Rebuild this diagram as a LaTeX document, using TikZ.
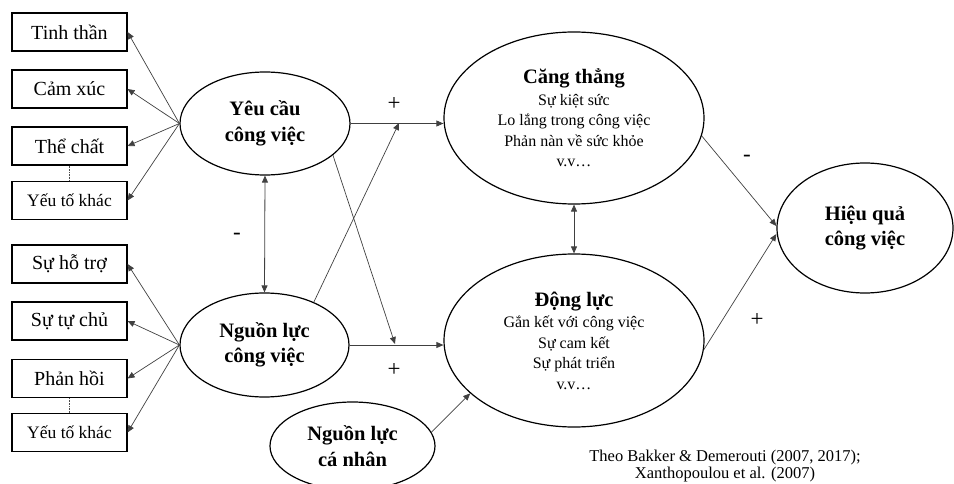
\documentclass[tikz,border=0pt]{standalone}
\usepackage{fontspec}
\setmainfont{Liberation Serif}
\usetikzlibrary{shapes.geometric,arrows.meta}
\begin{document}
\begin{tikzpicture}[x=1pt,y=-1pt,
  box/.style={draw=black,line width=1.1pt,minimum width=115pt,minimum height=38pt,inner sep=0pt,font=\fontsize{20}{24}\selectfont},
  smallbox/.style={box,font=\fontsize{17.5}{21}\selectfont},
  oval/.style={draw=black,line width=1.2pt,ellipse,inner sep=0pt,align=center},
  boldoval/.style={oval,font=\bfseries\fontsize{20.5}{25.5}\selectfont},
  textoval/.style={oval,font=\fontsize{16}{20.5}\selectfont},
  link/.style={draw=black!75,line width=0.7pt,-{Triangle[length=7pt,width=6pt]}},
  dlink/.style={draw=black!75,line width=0.8pt,{Triangle[length=7pt,width=6pt]}-{Triangle[length=7pt,width=6pt]}},
  sign/.style={font=\fontsize{23}{26}\selectfont,inner sep=0pt},
  cite/.style={font=\fontsize{16.5}{17.5}\selectfont,align=center,inner sep=0pt}]
\useasboundingbox (0,0) rectangle (954,484);

% left boxes
\node[box] (b1) at (69.5,32) {Tinh thần};
\node[box] (b2) at (69.5,89) {Cảm xúc};
\node[box] (b3) at (69.5,146) {Thể chất};
\node[smallbox] (b4) at (69.5,200.5) {Yếu tố khác};
\node[box] (b5) at (69.5,264) {Sự hỗ trợ};
\node[box] (b6) at (69.5,321) {Sự tự chủ};
\node[box] (b7) at (69.5,378.5) {Phản hồi};
\node[smallbox] (b8) at (69.5,432.5) {Yếu tố khác};

% ellipses
\node[boldoval,minimum width=170pt,minimum height=103pt] (yc) at (265,123.5) {Yêu cầu\\công việc};
\node[boldoval,minimum width=169pt,minimum height=104pt] (nl) at (264.5,345) {Nguồn lực\\công việc};
\node[textoval,minimum width=260pt,minimum height=172pt] (ct) at (574,118)
  {{\bfseries\fontsize{20.5}{22}\selectfont Căng thẳng}\\[1pt]Sự kiệt sức\\Lo lắng trong công việc\\Phản nàn về sức khỏe\\v.v…};
\node[textoval,minimum width=260pt,minimum height=173pt] (dl) at (574,340.5)
  {{\bfseries\fontsize{20.5}{22}\selectfont Động lực}\\[1pt]Gắn kết với công việc\\Sự cam kết\\Sự phát triển\\v.v…};
\node[boldoval,minimum width=165pt,minimum height=88pt] (nc) at (352.5,446) {Nguồn lực\\cá nhân};
\node[boldoval,minimum width=176pt,minimum height=130pt] (hq) at (865,228) {Hiệu quả\\công việc};

% fan arrows
\foreach \b in {b1,b2,b3,b4} \draw[link] (yc.west) -- (\b.east);
\foreach \b in {b5,b6,b7,b8} \draw[link] (nl.west) -- (\b.east);
\draw[densely dotted,line width=0.6pt,draw=black!70] (b3.south) -- (b4.north);
\draw[densely dotted,line width=0.6pt,draw=black!70] (b7.south) -- (b8.north);

% double arrows
\draw[dlink] (yc.south) -- (nl.north);
\draw[dlink] (ct.south) -- (dl.north);

% horizontal arrows
\draw[link] (yc.east) -- (yc.east -| ct.west);
\draw[link] (nl.east) -- (nl.east -| dl.west);

% crossing arrows
\coordinate (pA) at (395,344);
\coordinate (pB) at (399,123);
\draw[link] (yc.-25) -- (pA);
\draw[link] (nl.41) -- (pB);

% personal resources
\draw[link] (nc.10) -- (dl.207);

% to performance
\draw[link] (ct.-8) -- ([yshift=2pt]hq.west);
\draw[link] (dl.-4) -- ([yshift=-6pt]hq.west);

% signs
\node[sign] (s1) at (394,104) {+};
\node[sign] (s2) at (394,370) {+};
\node[sign] (s3) at (237,236) {-};
\node[sign] (s4) at (747,158) {-};
\node[sign] (s5) at (757,320) {+};

% citation
\node[cite] (c1) at (725,466) {Theo Bakker \& Demerouti (2007, 2017);\\Xanthopoulou et al. (2007)};
\end{tikzpicture}
\end{document}
